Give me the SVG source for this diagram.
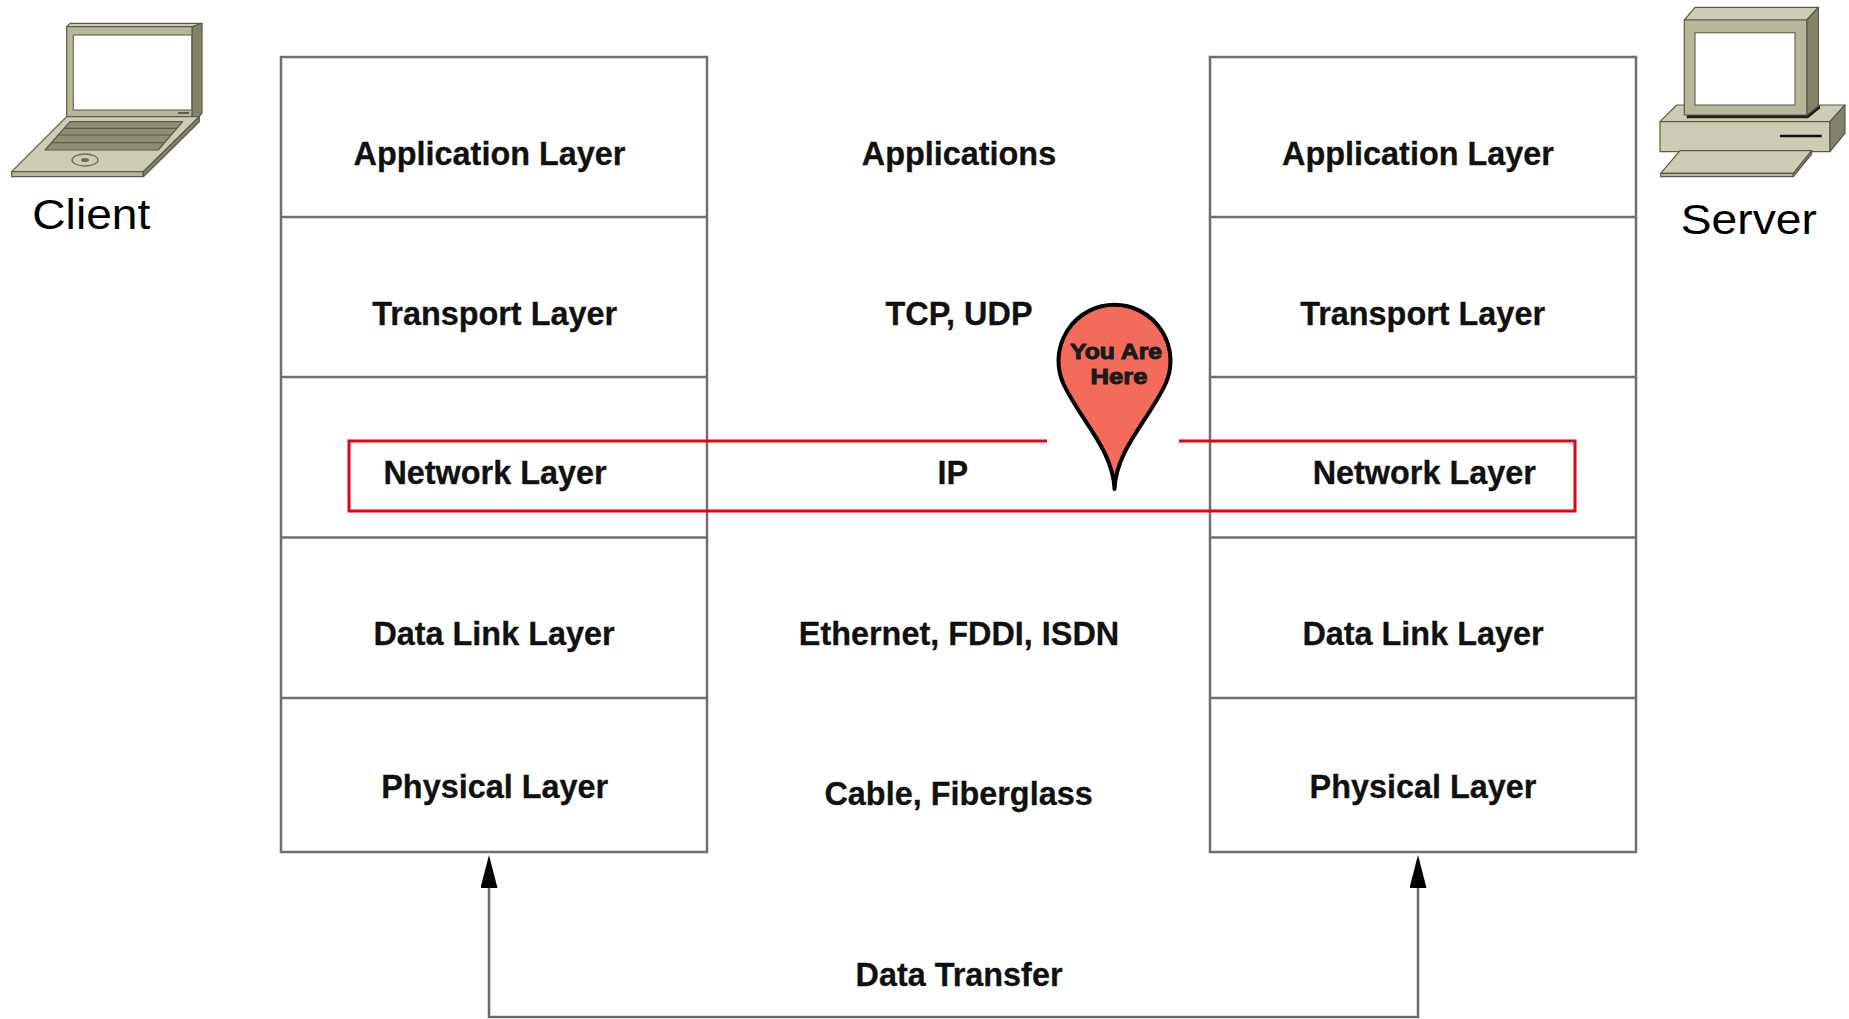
<svg xmlns="http://www.w3.org/2000/svg" width="1849" height="1019" viewBox="0 0 1849 1019">
  <style>
    .stack { fill: #ffffff; stroke: #6f6f6f; stroke-width: 2.5; }
    .div { stroke: #6f6f6f; stroke-width: 2.5; }
    .lbl { font-family: "Liberation Sans", Arial, sans-serif; font-weight: bold; font-size: 32.4px; fill: #111111; stroke: #111111; stroke-width: 0.3; text-anchor: middle; }
    .cap { font-family: "Liberation Sans", Arial, sans-serif; font-size: 42px; fill: #000000; text-anchor: middle; }
    .ol { stroke: #5b5b48; stroke-width: 1.2; stroke-linejoin: round; }
    .light { fill: #cdcdb5; }
    .mid { fill: #b7b799; }
    .dark { fill: #83836a; }
    .kb { fill: #8e8e72; }
    .conn { fill: none; stroke: #6a6a6a; stroke-width: 2.5; }
    .hl { fill: none; stroke: #e8001a; stroke-width: 3; }
    .pintext { font-family: "Liberation Sans", Arial, sans-serif; font-weight: bold; font-size: 22px; fill: #1a1a1a; stroke: #1a1a1a; stroke-width: 1; text-anchor: middle; }
  </style>
  <defs>
    <marker id="arrow" viewBox="0 0 33 17" markerUnits="userSpaceOnUse" markerWidth="33" markerHeight="17" refX="0" refY="8.5" orient="auto-start-reverse">
      <path d="M0,0 L33,8.5 L0,17 Z" fill="#000000"/>
    </marker>
  </defs>

  <rect width="1849" height="1019" fill="#ffffff"/>

  <!-- Client laptop -->
  <g id="client">
    <!-- lid -->
    <polygon class="light ol" points="66.7,26.7 70,23.3 202,23.3 192,26.7"/>
    <polygon class="dark ol" points="192,26.7 202,23.3 202,113 199,116.7 192,116.7"/>
    <rect class="mid ol" x="66.7" y="26.7" width="125.3" height="90"/>
    <rect x="73.3" y="35" width="118.4" height="75" fill="#ffffff" stroke="#6a6a55" stroke-width="1.2"/>
    <line x1="178" y1="113" x2="189" y2="113" stroke="#3f3f32" stroke-width="1.5"/>
    <!-- base -->
    <polygon class="light ol" points="66.7,116.7 199.3,116.7 143.3,171.7 11.7,171.7"/>
    <polygon class="mid ol" points="11.7,171.7 143.3,171.7 143.3,176.7 11.7,176.7"/>
    <polygon class="dark ol" points="143.3,171.7 199.3,116.7 199.3,121.7 143.3,176.7"/>
    <!-- keyboard -->
    <polygon class="kb ol" points="70,121.7 182.7,121.7 158.3,150 45,150"/>
    <line x1="64.2" y1="128.3" x2="177" y2="128.3" stroke="#5b5b48" stroke-width="1.2"/>
    <line x1="58.2" y1="135" x2="171.2" y2="135" stroke="#5b5b48" stroke-width="1.2"/>
    <line x1="51.4" y1="142.7" x2="164.6" y2="142.7" stroke="#5b5b48" stroke-width="1.2"/>
    <!-- touchpad -->
    <ellipse cx="85" cy="160" rx="13" ry="6" fill="none" stroke="#6e6e58" stroke-width="1.3"/>
    <ellipse cx="85" cy="160" rx="4" ry="2" fill="#6e6e58"/>
    <text class="cap" x="91.3" y="229" textLength="118" lengthAdjust="spacingAndGlyphs">Client</text>
  </g>

  <!-- Server workstation -->
  <g id="server">
    <!-- system unit -->
    <polygon class="light ol" points="1660,121.7 1676.7,105 1845,105 1830,121.7"/>
    <rect class="light ol" x="1660" y="121.7" width="170" height="30"/>
    <polygon class="dark ol" points="1830,121.7 1845,105 1845,133 1830,151.7"/>
    <line x1="1780" y1="136" x2="1821.7" y2="136" stroke="#111111" stroke-width="2.5"/>
    <!-- monitor -->
    <polygon points="1686.7,114 1808,114 1820,105 1820,108.5 1808,118.3 1686.7,118.3" fill="#1e1e1e"/>
    <polygon class="light ol" points="1684.3,20 1695,7.3 1818.3,7.3 1806.7,20"/>
    <polygon class="dark ol" points="1806.7,20 1818.3,7.3 1818.3,106 1806.7,115"/>
    <rect class="mid ol" x="1684.3" y="20" width="122.4" height="95"/>
    <rect x="1695" y="32.7" width="100" height="72.3" fill="#ffffff" stroke="#6a6a55" stroke-width="1.2"/>
    <!-- keyboard -->
    <polygon class="light ol" points="1660.7,173.3 1680,150.7 1811.7,150.7 1793.3,173.3"/>
    <polygon class="mid ol" points="1660.7,173.3 1793.3,173.3 1793.3,176.7 1660.7,176.7"/>
    <polygon class="dark ol" points="1793.3,173.3 1811.7,150.7 1811.7,154 1793.3,176.7"/>
    <text class="cap" x="1748.8" y="234" textLength="136" lengthAdjust="spacingAndGlyphs">Server</text>
  </g>

  <!-- Client protocol stack -->
  <g id="client-stack">
    <rect class="stack" x="281" y="57" width="426" height="795"/>
    <line class="div" x1="281" y1="217" x2="707" y2="217"/>
    <line class="div" x1="281" y1="377" x2="707" y2="377"/>
    <line class="div" x1="281" y1="537.5" x2="707" y2="537.5"/>
    <line class="div" x1="281" y1="698" x2="707" y2="698"/>
    <text class="lbl" x="489.5" y="165">Application Layer</text>
    <text class="lbl" x="494.7" y="325">Transport Layer</text>
    <text class="lbl" x="495" y="484">Network Layer</text>
    <text class="lbl" x="494" y="645">Data Link Layer</text>
    <text class="lbl" x="494.7" y="798">Physical Layer</text>
  </g>

  <!-- Server protocol stack -->
  <g id="server-stack">
    <rect class="stack" x="1210" y="57" width="426" height="795"/>
    <line class="div" x1="1210" y1="217" x2="1636" y2="217"/>
    <line class="div" x1="1210" y1="377" x2="1636" y2="377"/>
    <line class="div" x1="1210" y1="537.5" x2="1636" y2="537.5"/>
    <line class="div" x1="1210" y1="698" x2="1636" y2="698"/>
    <text class="lbl" x="1418" y="165">Application Layer</text>
    <text class="lbl" x="1422.6" y="325">Transport Layer</text>
    <text class="lbl" x="1424.3" y="484">Network Layer</text>
    <text class="lbl" x="1423" y="645">Data Link Layer</text>
    <text class="lbl" x="1423" y="798">Physical Layer</text>
  </g>

  <!-- Protocols per layer -->
  <g id="protocols">
    <text class="lbl" x="959" y="165">Applications</text>
    <text class="lbl" x="959" y="325">TCP, UDP</text>
    <text class="lbl" x="952.7" y="484">IP</text>
    <text class="lbl" x="959" y="645">Ethernet, FDDI, ISDN</text>
    <text class="lbl" x="958.6" y="805">Cable, Fiberglass</text>
  </g>

  <!-- Network layer highlight -->
  <g id="highlight">
    <path class="hl" d="M1047,441 H349 V511 H1575 V441 H1179"/>
  </g>

  <!-- Location pin -->
  <g id="pin">
    <path d="M1114.5,489 C1116,450 1147.8,421.1 1165,385 A56,56 0 1 0 1064,385 C1081.2,421.1 1113,450 1114.5,489 Z" fill="#f26b5b" stroke="#000000" stroke-width="4" stroke-linejoin="round"/>
    <text class="pintext" x="1116" y="359" textLength="92" lengthAdjust="spacingAndGlyphs">You Are</text>
    <text class="pintext" x="1119" y="384" textLength="57" lengthAdjust="spacingAndGlyphs">Here</text>
  </g>

  <!-- Connectors -->
  <g id="connectors">
    <path class="conn" d="M489,888 V1017 H1418 V888" marker-start="url(#arrow)" marker-end="url(#arrow)"/>
    <text class="lbl" x="959" y="986">Data Transfer</text>
  </g>
</svg>
